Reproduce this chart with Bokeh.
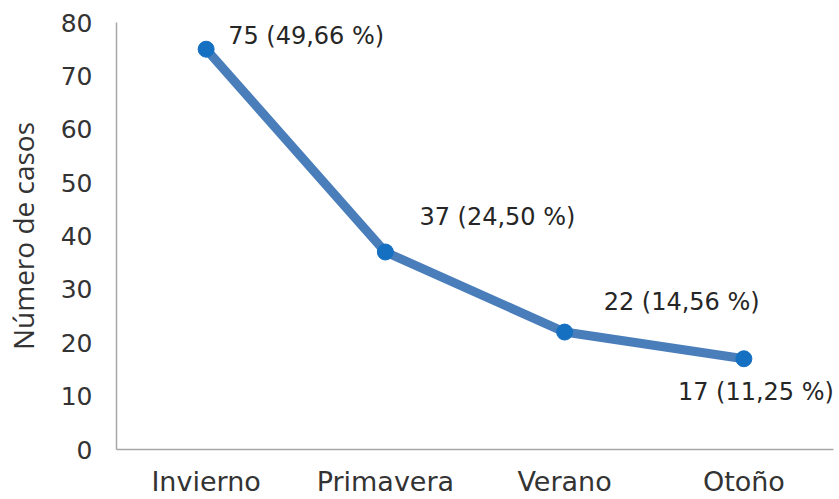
from bokeh.plotting import figure
from bokeh.models import ColumnDataSource, Range1d, FactorRange, FixedTicker
from bokeh.core.properties import value
from bokeh.embed import file_html
from bokeh.resources import INLINE

seasons = ["Invierno", "Primavera", "Verano", "Otoño"]
cases = [75, 37, 22, 17]
percents = ["49,66", "24,50", "14,56", "11,25"]
y_ticks = [0, 10, 20, 30, 40, 50, 60, 70, 80]

labels = [f"{c} ({pc} %)" for c, pc in zip(cases, percents)]
label_dx = [22, 34, 39, -66]
label_dy = [-13, -35, -30, 33]

src = ColumnDataSource(dict(x=seasons, y=cases, t=labels, dx=label_dx, dy=label_dy))

FONT = "DejaVu Sans"

p = figure(width=839, height=499, output_backend="svg", toolbar_location=None,
           x_range=FactorRange(*seasons, range_padding=0), y_range=Range1d(0, 80),
           min_border_left=116, min_border_right=6, min_border_top=22, min_border_bottom=49)
p.outline_line_color = None
p.grid.visible = False

p.line("x", "y", source=src, line_width=9, line_color="#4A7EBB")
p.scatter("x", "y", source=src, size=16, fill_color="#1670C2", line_color="#1670C2")
p.text("x", "y", text="t", source=src, x_offset="dx", y_offset="dy",
       text_font=value(FONT), text_font_size="24px", text_color="#262626",
       text_baseline="middle", text_align="left")

p.yaxis.ticker = FixedTicker(ticks=y_ticks)
p.yaxis.axis_label = "Número de casos"
p.yaxis.axis_label_text_font = "Open Sans"
p.yaxis.axis_label_text_font_style = "normal"
p.yaxis.axis_label_text_font_size = "28px"
p.yaxis.axis_label_text_color = "#333333"
p.yaxis.axis_label_standoff = 16

for ax in (p.xaxis, p.yaxis):
    ax.major_tick_line_color = None
    ax.minor_tick_line_color = None
    ax.axis_line_color = "#A6A6A6"
    ax.axis_line_width = 1.5
    ax.major_label_text_font = FONT
    ax.major_label_text_color = "#333333"

p.yaxis.major_label_text_font_size = "25px"
p.xaxis.major_label_text_font_size = "27px"
p.yaxis.major_label_standoff = 18
p.xaxis.major_label_standoff = 10

open("out.html", "w").write(file_html(p, INLINE))
